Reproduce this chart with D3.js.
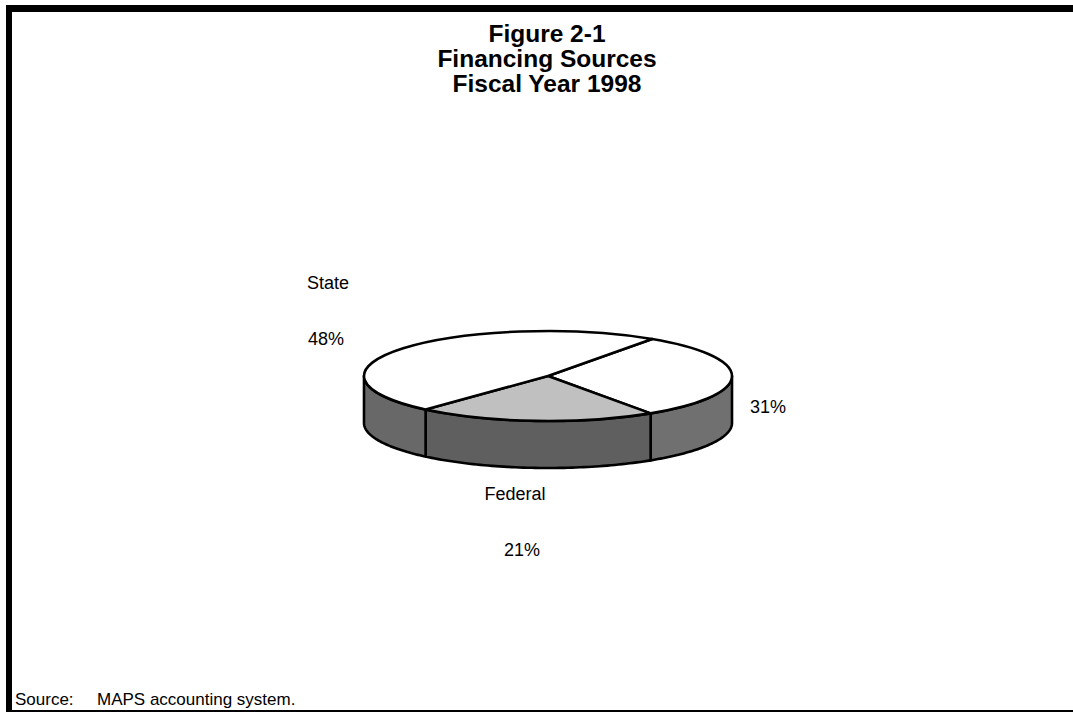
<!DOCTYPE html>
<html>
<head>
<meta charset="utf-8">
<script src="https://cdn.jsdelivr.net/npm/d3@7"></script>
<style>
  body { margin: 0; background: #fff; }
  text { font-family: Arial, "Liberation Sans", sans-serif; }
</style>
</head>
<body>
<svg width="1073" height="713"></svg>
<script>
// data, in clockwise drawing order starting at the 31% slice
const categories = ["", "Federal", "State"];
const values = [31, 21, 48];
const pctLabels = ["31%", "21%", "48%"];
const titleLines = ["Figure 2-1", "Financing Sources", "Fiscal Year 1998"];

const topFill = ["#ffffff", "#c0c0c0", "#ffffff"];
const sideFill = ["#707070", "#5f5f5f", "#686868"];

// label anchor points: [name x, name y, pct x, pct y]
const labelAt = [[0, 0, 768, 413], [515, 500, 522, 556], [328, 289, 326, 345]];

const svg = d3.select("svg");

svg.append("rect").attr("width", 1073).attr("height", 713).attr("fill", "#fff");

// frame
svg.append("rect").attr("x", 6).attr("y", 5).attr("width", 1067).attr("height", 7).attr("fill", "#000");
svg.append("rect").attr("x", 6).attr("y", 5).attr("width", 6).attr("height", 707).attr("fill", "#000");
svg.append("rect").attr("x", 6).attr("y", 710).attr("width", 1067).attr("height", 2).attr("fill", "#000");

// title
svg.append("g").selectAll("text")
    .data(titleLines)
    .join("text")
    .attr("x", 547)
    .attr("y", (d, i) => 42 + i * 25)
    .attr("text-anchor", "middle")
    .attr("font-size", 24.5)
    .attr("font-weight", "bold")
    .attr("textLength", null)
    .text(d => d);

// pie geometry
const cx = 548, cy = 376, rx = 184, ry = 45, depth = 47;
const startT = -55.5 * Math.PI / 180;

const pie = d3.pie()
    .sort(null)
    .startAngle(startT + Math.PI / 2)
    .endAngle(startT + Math.PI / 2 + 2 * Math.PI);
const arcs = pie(values).map(a => ({
    t0: a.startAngle - Math.PI / 2,
    t1: a.endAngle - Math.PI / 2,
    i: a.index
}));

const px = t => cx + rx * Math.cos(t);
const py = t => cy + ry * Math.sin(t);

const g = svg.append("g")
    .attr("stroke", "#000")
    .attr("stroke-width", 2.6)
    .attr("stroke-linejoin", "round");

// side walls: only the front half (t in [0, PI]) is visible
arcs.forEach(a => {
    for (let k = -1; k <= 1; k++) {
        const s = Math.max(a.t0 + k * 2 * Math.PI, 0);
        const e = Math.min(a.t1 + k * 2 * Math.PI, Math.PI);
        if (e <= s) continue;
        const p = d3.path();
        p.moveTo(px(s), py(s));
        p.lineTo(px(s), py(s) + depth);
        const n = 60;
        for (let j = 1; j <= n; j++) {
            const t = s + (e - s) * j / n;
            p.lineTo(px(t), py(t) + depth);
        }
        p.lineTo(px(e), py(e));
        for (let j = n - 1; j >= 0; j--) {
            const t = s + (e - s) * j / n;
            p.lineTo(px(t), py(t));
        }
        p.closePath();
        g.append("path").attr("d", p.toString()).attr("fill", sideFill[a.i]);
    }
});

// top faces
arcs.forEach(a => {
    const large = (a.t1 - a.t0) > Math.PI ? 1 : 0;
    const d = `M${cx},${cy}L${px(a.t0)},${py(a.t0)}` +
        `A${rx},${ry} 0 ${large} 1 ${px(a.t1)},${py(a.t1)}Z`;
    g.append("path").attr("d", d).attr("fill", topFill[a.i]);
});

// labels
const lg = svg.append("g").attr("font-size", 18).attr("text-anchor", "middle");
arcs.forEach(a => {
    const [nx, ny, qx, qy] = labelAt[a.i];
    if (categories[a.i]) {
        lg.append("text").attr("x", nx).attr("y", ny).text(categories[a.i]);
    }
    lg.append("text").attr("x", qx).attr("y", qy).text(pctLabels[a.i]);
});

// source note
svg.append("text").attr("x", 15).attr("y", 705).attr("font-size", 17).text("Source:");
svg.append("text").attr("x", 97).attr("y", 705).attr("font-size", 17).text("MAPS accounting system.");
</script>
</body>
</html>
